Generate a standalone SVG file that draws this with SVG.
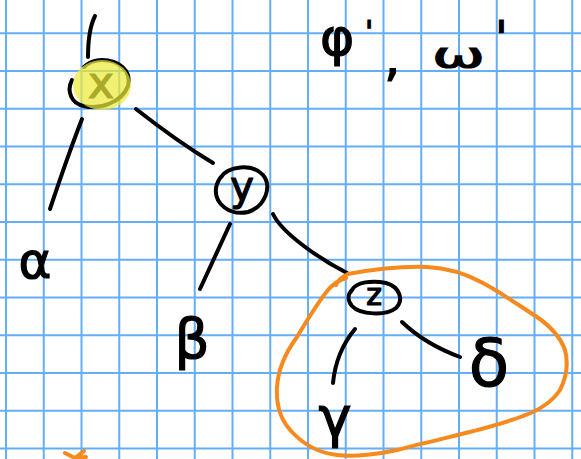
<svg xmlns="http://www.w3.org/2000/svg" width="581" height="459" viewBox="0 0 581 459">
<style>
.grid{stroke:#64aef8;stroke-width:2;fill:none}
.ink{stroke:#000;stroke-width:4;fill:none;stroke-linecap:round;stroke-linejoin:round}
.hand{font-family:"DejaVu Sans",sans-serif;fill:#000;stroke:#000;stroke-width:1.2}
.orange{stroke:#f68a1e;stroke-width:4;fill:none;stroke-linecap:round;stroke-linejoin:round}
</style>
<rect width="581" height="459" fill="#fff"/>
<g id="grid">
<path class="grid" d="M6,0V459M43.75,0V459M81.5,0V459M119.25,0V459M157,0V459M194.75,0V459M232.5,0V459M270.25,0V459M308,0V459M345.75,0V459M383.5,0V459M421.25,0V459M459,0V459M496.75,0V459M534.5,0V459M572.25,0V459"/>
<path class="grid" d="M0,33.2H581M0,70.95H581M0,108.7H581M0,146.45H581M0,184.2H581M0,221.95H581M0,259.7H581M0,297.45H581M0,335.2H581M0,372.95H581M0,410.7H581M0,448.45H581"/>
</g>
<g id="connectors">
<path class="ink" d="M95,16 Q88,30 88,57"/>
<path class="ink" d="M82,119 Q68,155 50,209"/>
<path class="ink" d="M136,109 Q178,142 213,163"/>
<path class="ink" d="M230,224 L200,289"/>
<path class="ink" d="M273,214 C282,233 318,258 347,273"/>
<path class="ink" d="M355,329 Q336,352 333,383"/>
<path class="ink" d="M402,322 Q425,344 460,357"/>
</g>
<g id="node-x">
<path class="ink" d="M72,80 C66,92 72,104 84,106 C100,110 122,102 128,86 C132,70 118,60 102,60 C94,60 88,63 84,67"/>
<text class="hand" x="101" y="98" font-size="44" text-anchor="middle">x</text>
<ellipse cx="102" cy="85" rx="29" ry="25" fill="#ecea3a" fill-opacity="0.72"/>
</g>
<g id="node-y">
<path class="ink" d="M220,178 C228,166 252,163 263,175 C272,186 266,206 248,212 C230,216 214,204 216,188 C217,182 219,179 222,176"/>
<text class="hand" x="242" y="200" font-size="40" text-anchor="middle">y</text>
</g>
<g id="node-z">
<path class="ink" d="M352,290 C356,282 372,280 386,283 C400,287 404,300 396,308 C386,316 360,315 352,306 C347,300 348,294 352,290"/>
<text class="hand" x="374" y="305" font-size="30" text-anchor="middle">z</text>
</g>
<g id="leaf-alpha">
<text class="hand" x="35" y="278" font-size="50" text-anchor="middle">α</text>
</g>
<g id="leaf-beta">
<text class="hand" x="192" y="358" font-size="55" text-anchor="middle">β</text>
</g>
<g id="leaf-gamma">
<text class="hand" x="335" y="436" font-size="56" text-anchor="middle">γ</text>
</g>
<g id="leaf-delta">
<text class="hand" x="489" y="386" font-size="66" text-anchor="middle">δ</text>
</g>
<g id="label">
<text class="hand" font-size="52"><tspan x="320" y="55">φ</tspan><tspan x="365" y="42" font-size="30">'</tspan><tspan x="384" y="75">,</tspan><tspan x="432" y="68" font-size="36" textLength="53" lengthAdjust="spacingAndGlyphs">ω</tspan><tspan x="495" y="54" font-size="46">'</tspan></text>
</g>
<g id="group-outline">
<path class="orange" d="M336,285 C338,279 344,276 348,274 C370,270 400,266 427,267 C450,268 470,276 483,283 C500,292 520,306 537,317 C550,326 560,336 565,350 C569,365 566,378 560,390 C552,402 540,410 523,416 C505,423 485,428 470,432 C450,437 420,444 397,450 C380,454 355,457 337,455 C320,453 305,446 292,432 C280,420 276,405 277,387 C278,370 286,352 297,337 C306,322 318,302 328,290 C333,284 340,280 346,278"/>
<path class="orange" d="M65,453 L75,458 L84,451 M75,458 L86,457"/>
</g>
</svg>
